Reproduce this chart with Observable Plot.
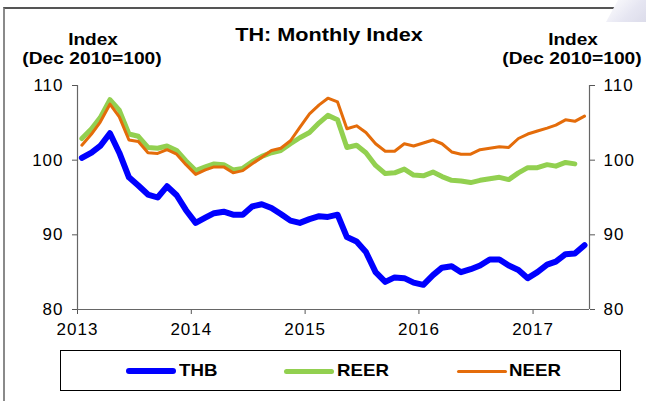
<!DOCTYPE html>
<html>
<head>
<meta charset="utf-8">
<script src="https://cdn.jsdelivr.net/npm/d3@7"></script>
<script src="https://cdn.jsdelivr.net/npm/@observablehq/plot@0.6"></script>
<style>
  html, body { margin: 0; padding: 0; background: #fff; overflow: hidden; }
  body { width: 646px; height: 401px; position: relative; font-family: "Liberation Sans", Arial, sans-serif; }
  #chart { position: absolute; left: 0; top: 0; }
  .t { position: absolute; white-space: nowrap; font-weight: bold; color: #000; transform-origin: center; }
  .frame { position: absolute; left: 3px; top: 7px; width: 610px; height: 400px; border-left: 2px solid #8a8a8a; border-top: 2px solid #555; }
  .corner { position: absolute; right: 0; top: 0; width: 40px; height: 22px; background: linear-gradient(135deg, #ffffff 0%, #e6e6f2 60%, #dcdcea 100%); clip-path: polygon(30% 0, 100% 0, 100% 100%, 0 100%); }
  .legend { position: absolute; left: 60px; top: 350px; width: 561px; height: 41px; border: 1px solid #000; box-sizing: border-box; }
  .sw { position: absolute; border-radius: 4px; }
</style>
</head>
<body>
<div class="frame"></div>
<div class="corner"></div>
<div id="chart"></div>
<div class="t" style="left:229px;top:24px;width:200px;text-align:center;font-size:19px;transform:scaleX(1.14);">TH: Monthly Index</div>
<div class="t" style="left:43px;top:30px;width:100px;text-align:center;font-size:17px;transform:scaleX(1.12);">Index</div>
<div class="t" style="left:21px;top:49px;width:142px;text-align:center;font-size:17px;transform:scaleX(1.13);">(Dec 2010=100)</div>
<div class="t" style="left:523px;top:30px;width:100px;text-align:center;font-size:17px;transform:scaleX(1.12);">Index</div>
<div class="t" style="left:501px;top:49px;width:142px;text-align:center;font-size:17px;transform:scaleX(1.13);">(Dec 2010=100)</div>
<div id="legend" class="legend"></div>
<script>
// Monthly data, Jan 2013 onward
const startYear = 2013;
const thb = [100.3,101.0,101.9,103.6,101.0,97.7,96.6,95.4,95.0,96.5,95.3,93.3,
             91.6,92.3,92.9,93.1,92.7,92.7,93.8,94.1,93.6,92.8,91.9,91.6,
             92.1,92.5,92.4,92.7,89.7,89.1,87.7,85.0,83.7,84.3,84.2,83.6,
             83.3,84.6,85.6,85.8,85.0,85.4,85.9,86.7,86.7,85.9,85.3,84.2,
             85.0,86.0,86.4,87.4,87.5,88.6];
const reer = [102.9,104.2,105.7,108.1,106.7,103.5,103.2,101.7,101.6,101.9,101.3,99.9,
              98.6,99.1,99.5,99.4,98.7,98.9,99.8,100.5,101.0,101.3,102.2,103.0,
              103.7,105.0,106.0,105.4,101.7,102.0,101.0,99.3,98.2,98.3,98.8,98.0,
              97.9,98.4,97.8,97.3,97.2,97.0,97.3,97.5,97.7,97.4,98.3,99.0,
              99.0,99.4,99.2,99.7,99.5];
const neer = [102.0,103.5,105.1,107.5,105.8,102.7,102.5,101.0,100.9,101.4,100.8,99.4,
              98.1,98.7,99.1,99.1,98.3,98.6,99.5,100.4,101.3,101.6,102.6,104.4,
              106.2,107.4,108.3,107.8,104.2,104.6,103.7,102.2,101.2,101.2,102.2,101.9,
              102.3,102.7,102.2,101.1,100.8,100.8,101.4,101.6,101.8,101.7,102.9,103.5,
              103.9,104.3,104.7,105.4,105.2,105.9];
const seriesNames = ["THB", "REER", "NEER"];
const seriesColors = ["#0000FF", "#92D050", "#E46C0A"];
const seriesWidths = [6, 5, 3];
const yTicks = [80, 90, 100, 110];
const xTickYears = [2013, 2014, 2015, 2016, 2017];

const toRows = (arr) => arr.map((v, i) => ({date: new Date(Date.UTC(startYear, i, 15)), value: v}));
const allSeries = [thb, reer, neer].map(toRows);
const xDomain = [new Date(Date.UTC(2013, 0, 1)), new Date(Date.UTC(2017, 6, 1))];
const xTicks = xTickYears.map(y => new Date(Date.UTC(y, 0, 1)));

const chart = Plot.plot({
  width: 646,
  height: 401,
  marginLeft: 77,
  marginRight: 57,
  marginTop: 85,
  marginBottom: 92,
  style: {fontFamily: "'Liberation Sans', Arial, sans-serif", fontSize: "17px", background: "transparent", color: "#000"},
  x: {type: "utc", domain: xDomain},
  y: {domain: [80, 110]},
  marks: [
    Plot.axisY({anchor: "left", ticks: yTicks, tickSize: 5, tickPadding: 9, label: null, stroke: "#555"}),
    Plot.axisY({anchor: "right", ticks: yTicks, tickSize: 5, tickPadding: 9, label: null, stroke: "#555"}),
    Plot.axisX({ticks: xTicks, tickFormat: d3.utcFormat("%Y"), tickSize: 5, tickPadding: 8, label: null, stroke: "#555"}),
    Plot.ruleX([xDomain[0], xDomain[1]], {stroke: "#666", strokeWidth: 1.2}),
    Plot.ruleY([80], {stroke: "#666", strokeWidth: 1.2}),
    ...allSeries.map((rows, k) => Plot.lineY(rows, {
      x: "date", y: "value", stroke: seriesColors[k], strokeWidth: seriesWidths[k],
      strokeLinejoin: "round", strokeLinecap: "round"
    }))
  ]
});
chart.querySelectorAll("text").forEach(t => t.style.letterSpacing = "1px");
document.getElementById("chart").appendChild(chart);

// Legend
const legend = document.getElementById("legend");
const legendPos = [{line: 65, text: 118}, {line: 223, text: 276}, {line: 396, text: 448}];
seriesNames.forEach((name, k) => {
  const sw = document.createElement("div");
  sw.className = "sw";
  sw.style.left = legendPos[k].line + "px";
  sw.style.width = "50px";
  sw.style.height = seriesWidths[k] + "px";
  sw.style.top = (20 - seriesWidths[k] / 2) + "px";
  sw.style.background = seriesColors[k];
  legend.appendChild(sw);
  const tx = document.createElement("div");
  tx.className = "t";
  tx.style.left = legendPos[k].text + "px";
  tx.style.top = "10px";
  tx.style.fontSize = "17px";
  tx.style.transformOrigin = "left center";
  tx.style.transform = "scaleX(1.1)";
  tx.textContent = name;
  legend.appendChild(tx);
});
</script>
</body>
</html>
